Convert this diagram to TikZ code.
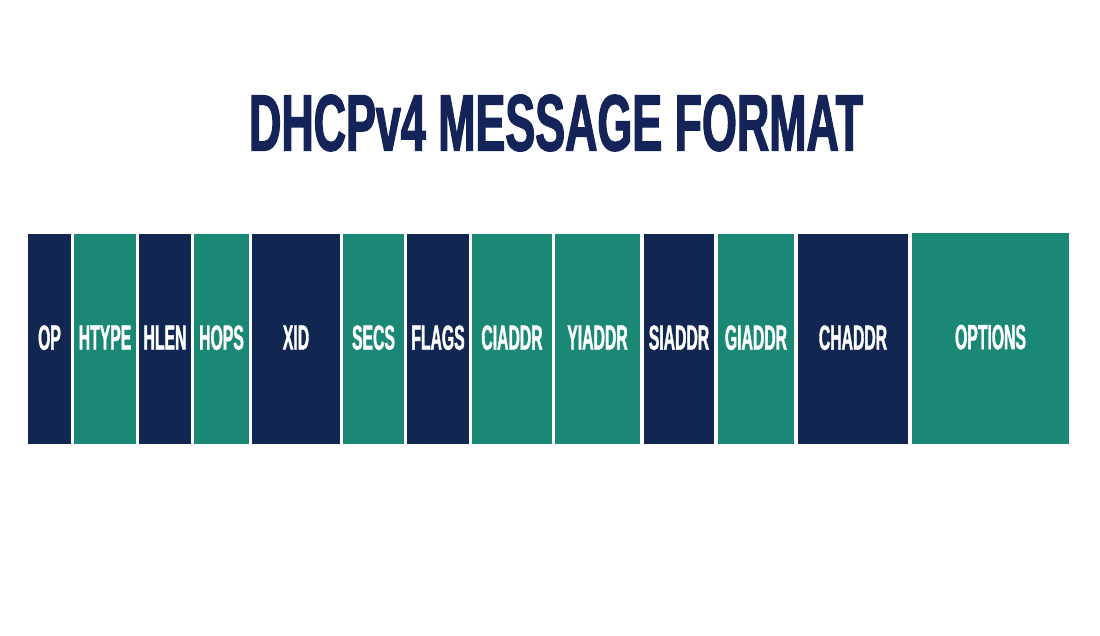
\documentclass[tikz,border=0pt]{standalone}
\usepackage{fontspec}
\usepackage{xcolor}
\newfontfamily\titlefont[FakeStretch=0.56,FakeBold=1.5]{Liberation Sans Bold}
\newfontfamily\fieldfont[FakeStretch=0.45,FakeBold=1]{Liberation Sans Bold}
\definecolor{dhcpnavy}{RGB}{17,38,80}
\definecolor{dhcpteal}{RGB}{27,136,118}
\definecolor{titlenavy}{RGB}{20,35,88}
\tikzset{
  field/.style={inner sep=0pt, minimum height=210pt, text=white,
    font=\fieldfont\fontsize{35}{35}\selectfont},
  navyfield/.style={field, fill=dhcpnavy},
  tealfield/.style={field, fill=dhcpteal}
}
\newcommand{\fieldlabel}[1]{\raisebox{3pt}{#1}}

\begin{document}
\begin{tikzpicture}[x=1pt, y=-1pt]
   \useasboundingbox[fill=white] (0,0) rectangle (1100,635);
   \node[text=titlenavy, font=\titlefont\fontsize{80}{80}\selectfont, inner sep=0pt] (title) at (556,123) {DHCPv4 MESSAGE FORMAT};
   % message fields
   \node[navyfield, minimum width=43pt] (op) at (49.5,339) {\fieldlabel{OP}};
   \node[tealfield, minimum width=62pt] (htype) at (105,339) {\fieldlabel{HTYPE}};
   \node[navyfield, minimum width=52pt] (hlen) at (165,339) {\fieldlabel{HLEN}};
   \node[tealfield, minimum width=55pt] (hops) at (221.5,339) {\fieldlabel{HOPS}};
   \node[navyfield, minimum width=88pt] (xid) at (296,339) {\fieldlabel{XID}};
   \node[tealfield, minimum width=61pt] (secs) at (373.5,339) {\fieldlabel{SECS}};
   \node[navyfield, minimum width=62pt] (flags) at (438,339) {\fieldlabel{FLAGS}};
   \node[tealfield, minimum width=80pt] (ciaddr) at (512,339) {\fieldlabel{CIADDR}};
   \node[tealfield, minimum width=85pt] (yiaddr) at (597.5,339) {\fieldlabel{YIADDR}};
   \node[navyfield, minimum width=70pt] (siaddr) at (679,339) {\fieldlabel{SIADDR}};
   \node[tealfield, minimum width=76pt] (giaddr) at (756,339) {\fieldlabel{GIADDR}};
   \node[navyfield, minimum width=110pt] (chaddr) at (853,339) {\fieldlabel{CHADDR}};
   \node[tealfield, minimum width=157pt, minimum height=211pt] (options) at (990.5,338.5) {\fieldlabel{OPTIONS}};
\end{tikzpicture}
\end{document}
